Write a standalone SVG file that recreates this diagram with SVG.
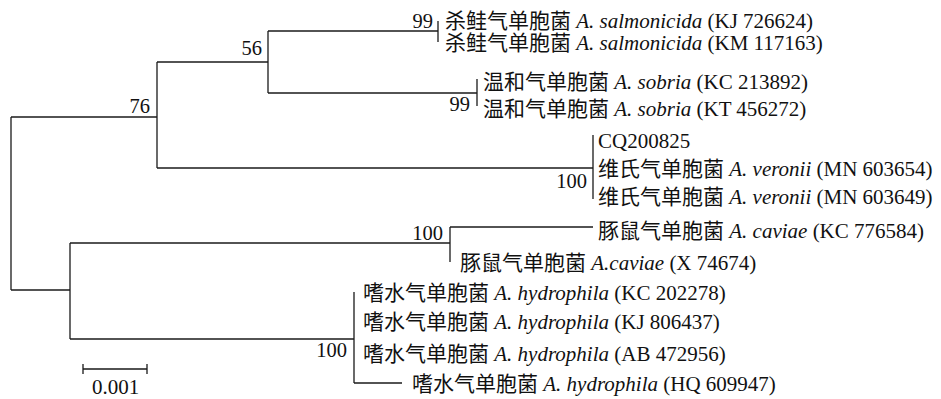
<svg xmlns="http://www.w3.org/2000/svg" width="941" height="399" viewBox="0 0 941 399">
<style>
.t{font-family:"Liberation Serif","Noto Sans CJK SC",serif;font-size:21px;fill:#111}
.n{font-family:"Liberation Serif",serif;font-size:20.5px;fill:#111;text-anchor:end}
.i{font-style:italic}
.ln{fill:none;stroke:#1a1a1a;stroke-width:1.3}
</style>
<rect width="941" height="399" fill="#fff"/>
<g id="connectors" class="ln">
<path d="M11,117 V290"/>
<path d="M11,117 H157"/>
<path d="M11,290 H70"/>
<path d="M157,62 V168"/>
<path d="M157,62 H268"/>
<path d="M157,168 H593"/>
<path d="M268,31 V93"/>
<path d="M268,31 H438"/>
<path d="M268,93 H477"/>
<path d="M438,21 V42"/>
<path d="M477,79 V106"/>
<path d="M593,135 V199"/>
<path d="M70,243 V339"/>
<path d="M70,243 H450"/>
<path d="M70,339 H354"/>
<path d="M450,227 V262"/>
<path d="M450,227 H593"/>
<path d="M354,292 V383"/>
<path d="M354,383 H402"/>
</g>
<g id="scalebar" class="ln">
<path d="M83,369 H147 M83,364 V374 M147,364 V374"/>
</g>
<text class="t" x="92" y="394">0.001</text>
<g id="node-76"><text class="n" x="150" y="113">76</text></g>
<g id="node-56"><text class="n" x="262" y="55">56</text></g>
<g id="node-salmonicida"><text class="n" x="433" y="28">99</text></g>
<g id="node-sobria"><text class="n" x="470" y="111">99</text></g>
<g id="node-veronii"><text class="n" x="587" y="188">100</text></g>
<g id="node-caviae"><text class="n" x="443" y="240">100</text></g>
<g id="node-hydrophila"><text class="n" x="347" y="357">100</text></g>
<g id="leaf-KJ726624"><text class="t" x="445" y="28">杀鲑气单胞菌 <tspan class="i">A. salmonicida</tspan> (KJ 726624)</text></g>
<g id="leaf-KM117163"><text class="t" x="445" y="50">杀鲑气单胞菌 <tspan class="i">A. salmonicida</tspan> (KM 117163)</text></g>
<g id="leaf-KC213892"><text class="t" x="483" y="89">温和气单胞菌 <tspan class="i">A. sobria</tspan> (KC 213892)</text></g>
<g id="leaf-KT456272"><text class="t" x="483" y="116">温和气单胞菌 <tspan class="i">A. sobria</tspan> (KT 456272)</text></g>
<g id="leaf-CQ200825"><text class="t" x="598" y="148">CQ200825</text></g>
<g id="leaf-MN603654"><text class="t" x="598" y="176">维氏气单胞菌 <tspan class="i">A. veronii</tspan> (MN 603654)</text></g>
<g id="leaf-MN603649"><text class="t" x="598" y="204">维氏气单胞菌 <tspan class="i">A. veronii</tspan> (MN 603649)</text></g>
<g id="leaf-KC776584"><text class="t" x="598" y="238">豚鼠气单胞菌 <tspan class="i">A. caviae</tspan> (KC 776584)</text></g>
<g id="leaf-X74674"><text class="t" x="460" y="270">豚鼠气单胞菌 <tspan class="i">A.caviae</tspan> (X 74674)</text></g>
<g id="leaf-KC202278"><text class="t" x="363" y="300">嗜水气单胞菌 <tspan class="i">A. hydrophila</tspan> (KC 202278)</text></g>
<g id="leaf-KJ806437"><text class="t" x="363" y="329">嗜水气单胞菌 <tspan class="i">A. hydrophila</tspan> (KJ 806437)</text></g>
<g id="leaf-AB472956"><text class="t" x="363" y="361">嗜水气单胞菌 <tspan class="i">A. hydrophila</tspan> (AB 472956)</text></g>
<g id="leaf-HQ609947"><text class="t" x="412" y="391">嗜水气单胞菌 <tspan class="i">A. hydrophila</tspan> (HQ 609947)</text></g>
</svg>
